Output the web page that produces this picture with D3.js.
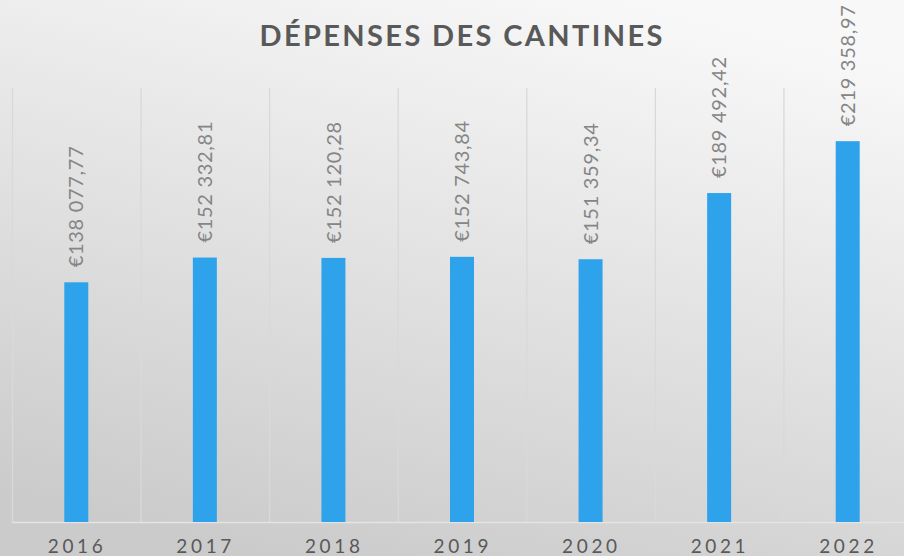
<!DOCTYPE html>
<html>
<head>
<meta charset="utf-8">
<script src="https://cdn.jsdelivr.net/npm/d3@7"></script>
<style>
  html, body { margin: 0; padding: 0; overflow: hidden; }
</style>
</head>
<body>
<div id="wrapper"></div>
<script>
const years = ["2016", "2017", "2018", "2019", "2020", "2021", "2022"];
const depenses = [138077.77, 152332.81, 152120.28, 152743.84, 151359.34, 189492.42, 219358.97];
const chartTitle = "DÉPENSES DES CANTINES";

function buildPlot() {
    var dimension = {
        width: 904,
        height: 556,
        margin: { top: 88, left: 12, bottom: 34, right: -8 }
    };
    dimension.boundedWidth = dimension.width - dimension.margin.left - dimension.margin.right;
    dimension.boundedHeight = dimension.height - dimension.margin.top - dimension.margin.bottom;

    const euro = d3.formatLocale({
        decimal: ",", thousands: "\u00a0", grouping: [3], currency: ["€", ""]
    }).format("$,.2f");

    const svg = d3.select("#wrapper").append("svg")
        .attr("width", dimension.width)
        .attr("height", dimension.height);

    // fond en dégradé
    const grad = svg.append("defs").append("linearGradient")
        .attr("id", "bg")
        .attr("x1", 0.7).attr("y1", 0).attr("x2", 0.3).attr("y2", 1);
    grad.append("stop").attr("offset", 0).attr("stop-color", "#f8f8f8");
    grad.append("stop").attr("offset", 1).attr("stop-color", "#cbcbcb");
    svg.append("rect")
        .attr("width", dimension.width)
        .attr("height", dimension.height)
        .attr("fill", "url(#bg)");

    const bounded = svg.append("g")
        .attr("transform", `translate(${dimension.margin.left}, ${dimension.margin.top})`);

    const xScaler = d3.scaleBand()
        .domain(years)
        .range([0, dimension.boundedWidth])
        .padding(0);

    const yScaler = d3.scaleLinear()
        .domain([0, 250000])
        .range([dimension.boundedHeight, 0]);

    // lignes de séparation verticales
    const edges = years.map(d => xScaler(d)).concat([dimension.boundedWidth]);
    bounded.selectAll(".grid")
        .data(edges)
        .join("line")
        .attr("class", "grid")
        .attr("x1", d => d + 0.5).attr("x2", d => d + 0.5)
        .attr("y1", 0).attr("y2", dimension.boundedHeight)
        .attr("stroke", "#d9d9d9")
        .attr("stroke-width", 1.3);

    // axe horizontal
    bounded.append("line")
        .attr("x1", 0).attr("x2", dimension.boundedWidth)
        .attr("y1", dimension.boundedHeight + 0.5).attr("y2", dimension.boundedHeight + 0.5)
        .attr("stroke", "#e4e4e4")
        .attr("stroke-width", 1.5);

    const barWidth = 24;
    bounded.selectAll(".bar")
        .data(depenses)
        .join("rect")
        .attr("class", "bar")
        .attr("x", (d, i) => xScaler(years[i]) + xScaler.bandwidth() / 2 - barWidth / 2)
        .attr("y", d => yScaler(d))
        .attr("width", barWidth)
        .attr("height", d => dimension.boundedHeight - yScaler(d))
        .attr("fill", "#2ea3ec");

    // étiquettes de valeurs, verticales
    bounded.selectAll(".val")
        .data(depenses)
        .join("text")
        .attr("class", "val")
        .attr("transform", (d, i) =>
            `translate(${xScaler(years[i]) + xScaler.bandwidth() / 2}, ${yScaler(d) - 15}) rotate(-90)`)
        .attr("dy", "0.36em")
        .style("font-family", "Lato, 'Open Sans', sans-serif")
        .style("font-size", "20px")
        .style("letter-spacing", "0.7px")
        .style("fill", "#858585")
        .text(d => euro(d));

    // libellés des années
    bounded.selectAll(".year")
        .data(years)
        .join("text")
        .attr("class", "year")
        .attr("x", d => xScaler(d) + xScaler.bandwidth() / 2 - 1)
        .attr("y", dimension.boundedHeight + 31)
        .attr("text-anchor", "middle")
        .attr("textLength", 55)
        .attr("lengthAdjust", "spacing")
        .style("font-family", "Lato, 'Open Sans', sans-serif")
        .style("font-size", "19px")
        .style("fill", "#595959")
        .text(d => d);

    svg.append("text")
        .attr("x", 461)
        .attr("y", 46)
        .attr("text-anchor", "middle")
        .attr("textLength", 403)
        .attr("lengthAdjust", "spacing")
        .style("font-family", "Lato, 'Open Sans', sans-serif")
        .style("font-weight", "bold")
        .style("font-size", "29px")
        .style("fill", "#595959")
        .text(chartTitle);
}

buildPlot();
</script>
</body>
</html>
